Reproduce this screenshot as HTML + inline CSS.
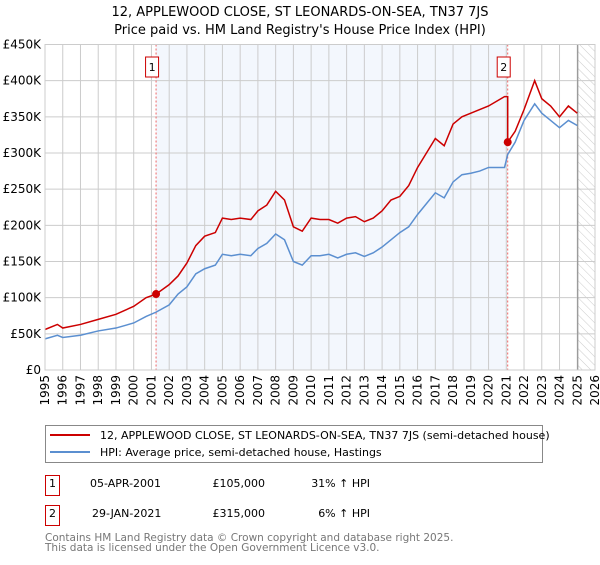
<!DOCTYPE html>
<html><head><meta charset="utf-8"><style>
body{margin:0;background:#fff;font-family:"Liberation Sans","DejaVu Sans",sans-serif;}
svg text{font-family:"DejaVu Sans","Liberation Sans",sans-serif;}
</style></head><body>
<svg id="c" width="600" height="560" xmlns="http://www.w3.org/2000/svg">
<defs><pattern id="hatch" width="6" height="6" patternUnits="userSpaceOnUse" patternTransform="rotate(-45)"><line x1="0" y1="0" x2="0" y2="6" stroke="#ccc" stroke-width="1"/></pattern></defs>
<text x="300" y="16" text-anchor="middle" font-size="13" fill="#000">12, APPLEWOOD CLOSE, ST LEONARDS-ON-SEA, TN37 7JS</text>
<text x="300" y="34" text-anchor="middle" font-size="13" fill="#000">Price paid vs. HM Land Registry's House Price Index (HPI)</text>
<g id="plot"></g>
<rect x="45.5" y="425.5" width="497" height="37" fill="#fff" stroke="#888"/>
<line x1="50" y1="435" x2="90" y2="435" stroke="#cc0000" stroke-width="2"/>
<text x="100" y="439" font-size="11">12, APPLEWOOD CLOSE, ST LEONARDS-ON-SEA, TN37 7JS (semi-detached house)</text>
<line x1="50" y1="452" x2="90" y2="452" stroke="#5b8fd0" stroke-width="2"/>
<text x="100" y="456" font-size="11">HPI: Average price, semi-detached house, Hastings</text>
<g>
<rect x="45.5" y="475.5" width="14" height="20" fill="#fff" stroke="#cc0000"/><text x="52.5" y="487" font-size="11" text-anchor="middle">1</text>
<text x="90" y="487" font-size="11">05-APR-2001</text><text x="265" y="487" font-size="11" text-anchor="end">£105,000</text><text x="370" y="487" font-size="11" text-anchor="end">31% ↑ HPI</text></g>
<g>
<rect x="45.5" y="505.5" width="14" height="20" fill="#fff" stroke="#cc0000"/><text x="52.5" y="517" font-size="11" text-anchor="middle">2</text>
<text x="92" y="517" font-size="11">29-JAN-2021</text><text x="265" y="517" font-size="11" text-anchor="end">£315,000</text><text x="370" y="517" font-size="11" text-anchor="end">6% ↑ HPI</text></g>
<text x="45" y="541" font-size="10.5" fill="#777">Contains HM Land Registry data © Crown copyright and database right 2025.</text>
<text x="45" y="551" font-size="10.5" fill="#777">This data is licensed under the Open Government Licence v3.0.</text>
</svg>
<script>
const yTicks=[0,50000,100000,150000,200000,250000,300000,350000,400000,450000];
const yTickLabels=["£0","£50K","£100K","£150K","£200K","£250K","£300K","£350K","£400K","£450K"];
const xYears=[1995,1996,1997,1998,1999,2000,2001,2002,2003,2004,2005,2006,2007,2008,2009,2010,2011,2012,2013,2014,2015,2016,2017,2018,2019,2020,2021,2022,2023,2024,2025,2026];
const hpiT=[1995,1995.7,1996,1997,1998,1999,2000,2000.7,2001.26,2002,2002.5,2003,2003.5,2004,2004.6,2005,2005.5,2006,2006.6,2007,2007.5,2008,2008.5,2009,2009.5,2010,2010.5,2011,2011.5,2012,2012.5,2013,2013.5,2014,2014.5,2015,2015.5,2016,2016.5,2017,2017.5,2018,2018.5,2019,2019.5,2020,2020.9,2021.08,2021.5,2022,2022.6,2023,2023.5,2024,2024.5,2025];
const hpiV=[43000,48000,45000,48000,54000,58000,65000,74000,80000,90000,105000,115000,133000,140000,145000,160000,158000,160000,158000,168000,175000,188000,180000,150000,145000,158000,158000,160000,155000,160000,162000,157000,162000,170000,180000,190000,198000,215000,230000,245000,238000,260000,270000,272000,275000,280000,280000,298000,315000,345000,368000,355000,345000,335000,345000,338000];
const priceT=[1995,1995.7,1996,1997,1998,1999,2000,2000.7,2001.26,2002,2002.5,2003,2003.5,2004,2004.6,2005,2005.5,2006,2006.6,2007,2007.5,2008,2008.5,2009,2009.5,2010,2010.5,2011,2011.5,2012,2012.5,2013,2013.5,2014,2014.5,2015,2015.5,2016,2016.5,2017,2017.5,2018,2018.5,2019,2019.5,2020,2020.9,2021.08,2021.08,2021.5,2022,2022.6,2023,2023.5,2024,2024.5,2025];
const priceV=[56000,63000,58000,63000,70000,77000,88000,100000,105000,118000,130000,148000,172000,185000,190000,210000,208000,210000,208000,220000,228000,247000,235000,198000,192000,210000,208000,208000,203000,210000,212000,205000,210000,220000,235000,240000,255000,280000,300000,320000,310000,340000,350000,355000,360000,365000,378000,378000,315000,330000,360000,400000,375000,365000,350000,365000,355000];
const saleT=[2001.26,2021.08];
const saleV=[105000,315000];
const saleLabels=["1","2"];
const dataEndYear=2025.03;

const L=45,R=595,T=44.5,B=370,x0=1995,x1=2026,yMax=450000;
const X=t=>L+(t-x0)/(x1-x0)*(R-L);
const Y=v=>B-v/yMax*(B-T);
const NS="http://www.w3.org/2000/svg";
const g=document.getElementById('plot');
function mk(tag,a,parent){const e=document.createElementNS(NS,tag);for(const k in a)e.setAttribute(k,a[k]);(parent||g).appendChild(e);return e;}
let e;
e=mk('rect',{x:X(saleT[0]),y:T,width:X(saleT[1])-X(saleT[0]),height:B-T,fill:'#eef3fc',opacity:0.7});


e=mk('rect',{x:X(dataEndYear),y:T,width:R-X(dataEndYear),height:B-T,fill:'url(#hatch)'});


yTicks.forEach((v,i)=>{
 e=mk('line',{x1:L,x2:R,y1:Y(v),y2:Y(v),stroke:'#ccc','stroke-width':1});
 
 
 e=mk('text',{x:L-4,y:Y(v)+4,'text-anchor':'end','font-size':12,fill:'#000'});e.textContent=yTickLabels[i];
 
 
});
xYears.forEach(t=>{
 e=mk('line',{x1:X(t),x2:X(t),y1:T,y2:B,stroke:'#ccc','stroke-width':1});
 
 
 e=mk('text',{x:0,y:0,'text-anchor':'end','font-size':12,fill:'#000',transform:`translate(${X(t)+4},${B+5}) rotate(-90)`});e.textContent=t;
 
 
});
e=mk('line',{x1:X(dataEndYear),x2:X(dataEndYear),y1:T,y2:B,stroke:'#888','stroke-width':1});


saleT.forEach(t=>{
 e=mk('line',{x1:X(t),x2:X(t),y1:T,y2:B,stroke:'#e66','stroke-width':1,'stroke-dasharray':'2,2'});
 
 
});
e=mk('polyline',{points:hpiT.map((t,i)=>X(t)+','+Y(hpiV[i])).join(' '),fill:'none',stroke:'#5b8fd0','stroke-width':1.5});


e=mk('polyline',{points:priceT.map((t,i)=>X(t)+','+Y(priceV[i])).join(' '),fill:'none',stroke:'#cc0000','stroke-width':1.5});


saleT.forEach((t,i)=>{
 e=mk('circle',{cx:X(t),cy:Y(saleV[i]),r:4,fill:'#cc0000'});
 
 
 e=mk('rect',{x:X(t)-10.5,y:57,width:13,height:20,fill:'#fff',stroke:'#cc0000'});
 
 
 e=mk('text',{x:X(t)-4,y:71,'text-anchor':'middle','font-size':11,fill:'#000'});e.textContent=saleLabels[i];
 
 
});
e=mk('rect',{x:L,y:T,width:R-L,height:B-T,fill:'none',stroke:'#ccc'});


</script>
</body></html>
